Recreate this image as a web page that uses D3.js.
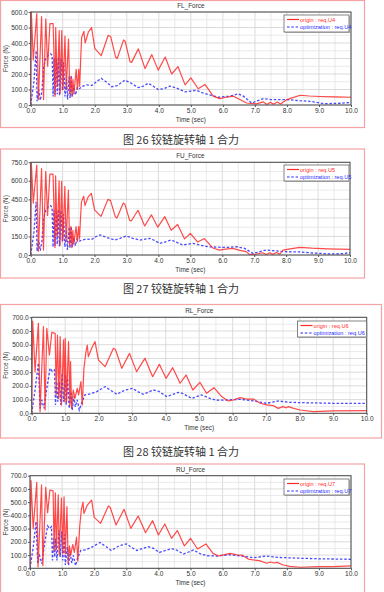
<!DOCTYPE html>
<html>
<head>
<meta charset="utf-8">
<script src="https://cdn.jsdelivr.net/npm/d3@7"></script>
<style>
  body { margin: 0; background: #fff; }
  svg { display: block; }
</style>
</head>
<body>
<div id="chart"></div>
<script>
var width = 384;
var height = 592;

// time ticks (sec) shared by every panel
var timeTicks = [0, 1, 2, 3, 4, 5, 6, 7, 8, 9, 10];

// FL_Force  [time, force]
var flOrigin = [[0,0],[0.02,600],[0.08,290],[0.19,590],[0.24,35],[0.34,570],[0.4,35],[0.47,555],[0.53,250],[0.6,525],[0.7,525],[0.76,55],[0.78,500],[0.83,120],[0.89,480],[0.92,75],[0.97,480],[1.01,100],[1.07,445],[1.11,100],[1.18,425],[1.22,75],[1.26,185],[1.29,55],[1.32,165],[1.35,75],[1.42,230],[1.46,100],[1.5,230],[1.53,120],[1.56,295],[1.59,435],[1.66,475],[1.7,400],[1.8,470],[1.9,500],[2.0,365],[2.2,318],[2.42,450],[2.5,440],[2.65,310],[2.7,300],[2.9,420],[2.95,410],[3.1,280],[3.15,275],[3.36,362],[3.57,235],[3.78,325],[3.98,225],[4.2,310],[4.4,200],[4.6,247],[4.82,130],[5.0,175],[5.23,105],[5.44,133],[5.7,57],[5.9,41],[6.1,50],[6.33,57],[6.53,35],[6.74,13],[7.05,7],[7.26,20],[7.38,4],[7.48,18],[7.58,5],[7.7,20],[7.8,6],[8.0,35],[8.41,63],[8.7,58],[9.03,55],[9.5,52],[10,50]];
var flOptim = [[0,0],[0.1,150],[0.17,350],[0.2,25],[0.25,100],[0.3,30],[0.35,90],[0.4,240],[0.47,300],[0.55,320],[0.62,330],[0.67,320],[0.7,55],[0.73,300],[0.76,65],[0.8,300],[0.83,70],[0.87,310],[0.9,60],[0.95,300],[0.99,95],[1.03,275],[1.07,55],[1.12,165],[1.15,35],[1.2,185],[1.23,45],[1.27,190],[1.3,55],[1.35,115],[1.4,65],[1.45,110],[1.5,100],[1.6,120],[1.75,130],[1.9,125],[2.05,150],[2.2,172],[2.35,150],[2.53,118],[2.7,125],[2.94,160],[3.1,145],[3.36,112],[3.5,120],[3.67,140],[3.8,125],[3.98,100],[4.15,105],[4.35,122],[4.55,110],[4.82,85],[5.0,90],[5.18,95],[5.35,80],[5.54,68],[5.86,50],[6.22,57],[6.48,72],[6.64,57],[6.9,13],[7.26,41],[7.5,35],[7.68,35],[8.0,35],[8.4,28],[8.72,24],[9.14,9],[9.6,10],[10,17]];

// FU_Force
var fuOrigin = [[0,0],[0.02,745],[0.08,420],[0.19,728],[0.24,30],[0.34,700],[0.4,40],[0.47,675],[0.53,320],[0.6,655],[0.7,655],[0.76,60],[0.78,640],[0.83,150],[0.89,600],[0.92,80],[0.97,595],[1.01,120],[1.07,555],[1.11,110],[1.18,525],[1.22,80],[1.26,230],[1.29,60],[1.32,200],[1.35,90],[1.42,230],[1.46,110],[1.5,230],[1.53,130],[1.56,300],[1.59,430],[1.66,475],[1.7,400],[1.8,470],[1.9,499],[2.0,365],[2.2,312],[2.42,450],[2.5,440],[2.65,310],[2.7,300],[2.9,420],[2.95,410],[3.1,280],[3.15,275],[3.36,362],[3.57,235],[3.78,325],[3.98,225],[4.2,310],[4.4,200],[4.6,247],[4.82,130],[5.0,175],[5.23,105],[5.44,133],[5.7,57],[5.92,40],[6.1,48],[6.33,54],[6.55,38],[6.75,27],[6.85,5],[7.05,6],[7.26,18],[7.38,4],[7.48,18],[7.58,5],[7.7,20],[7.8,6],[7.9,40],[8.42,62],[8.8,55],[9.3,50],[10,46]];
var fuOptim = [[0,0],[0.1,180],[0.17,430],[0.2,30],[0.25,120],[0.3,35],[0.35,110],[0.4,290],[0.47,360],[0.55,390],[0.62,400],[0.67,385],[0.7,65],[0.73,360],[0.76,75],[0.8,360],[0.83,85],[0.87,370],[0.9,70],[0.95,360],[0.99,110],[1.03,330],[1.07,65],[1.12,200],[1.15,40],[1.2,225],[1.23,55],[1.27,230],[1.3,65],[1.35,140],[1.4,75],[1.45,130],[1.5,110],[1.6,120],[1.75,130],[1.9,125],[2.05,150],[2.17,162],[2.35,145],[2.63,121],[2.8,135],[3.0,154],[3.2,135],[3.42,121],[3.73,135],[3.9,115],[4.04,94],[4.2,105],[4.4,121],[4.55,105],[4.76,81],[5.08,94],[5.3,80],[5.55,67],[5.97,62],[6.2,62],[6.44,67],[6.7,54],[6.96,13],[7.15,25],[7.37,40],[7.6,35],[7.9,27],[8.4,25],[8.9,15],[9.47,8],[9.8,12],[10,19]];

// RL_Force
var rlOrigin = [[0,0],[0.03,673],[0.1,304],[0.2,656],[0.25,12],[0.35,632],[0.4,24],[0.45,620],[0.53,425],[0.6,590],[0.7,583],[0.73,134],[0.77,571],[0.81,110],[0.85,559],[0.89,60],[0.95,535],[0.98,85],[1.0,547],[1.04,85],[1.1,523],[1.14,60],[1.16,377],[1.19,36],[1.24,170],[1.29,109],[1.36,182],[1.4,134],[1.47,231],[1.51,61],[1.56,328],[1.62,450],[1.66,498],[1.69,413],[1.79,474],[1.89,523],[1.99,389],[2.19,340],[2.44,474],[2.5,465],[2.69,328],[2.92,437],[3.13,304],[3.38,401],[3.61,267],[3.81,357],[4.01,255],[4.21,333],[4.43,219],[4.61,280],[4.81,170],[5.02,226],[5.22,146],[5.44,187],[5.67,122],[5.87,90],[6.02,97],[6.22,114],[6.42,104],[6.62,104],[6.82,73],[7.01,61],[7.21,56],[7.36,36],[7.5,49],[7.6,40],[7.66,49],[7.8,38],[8.01,24],[8.41,12],[9.0,17],[10,19]];
var rlOptim = [[0,0],[0.1,170],[0.2,365],[0.25,36],[0.3,97],[0.37,36],[0.45,182],[0.55,328],[0.62,304],[0.68,316],[0.71,61],[0.75,230],[0.78,85],[0.83,230],[0.87,61],[0.91,292],[0.95,85],[1.0,280],[1.03,61],[1.07,255],[1.12,36],[1.17,158],[1.21,24],[1.26,122],[1.3,48],[1.36,97],[1.42,24],[1.49,73],[1.59,134],[1.74,141],[1.94,158],[2.19,194],[2.34,170],[2.54,139],[2.79,170],[3.02,182],[3.15,160],[3.33,139],[3.63,170],[3.8,160],[4.03,122],[4.38,153],[4.5,145],[4.78,109],[5.07,134],[5.32,109],[5.52,95],[5.82,97],[6.22,102],[6.62,90],[7.01,73],[7.36,90],[7.71,80],[8.0,78],[9.0,73],[10,73]];

// RU_Force
var ruOrigin = [[0,0],[0.03,665],[0.1,300],[0.21,650],[0.25,10],[0.36,630],[0.4,20],[0.49,612],[0.55,420],[0.62,592],[0.72,585],[0.75,130],[0.79,570],[0.82,140],[0.88,555],[0.91,100],[0.98,530],[1.02,110],[1.06,540],[1.1,110],[1.15,466],[1.19,40],[1.23,170],[1.27,100],[1.33,180],[1.38,120],[1.45,235],[1.49,55],[1.55,320],[1.6,445],[1.65,500],[1.68,415],[1.78,475],[1.92,516],[2.0,385],[2.2,340],[2.44,471],[2.5,460],[2.68,327],[2.93,446],[3.14,302],[3.37,395],[3.6,269],[3.82,360],[4.0,252],[4.2,335],[4.41,227],[4.59,285],[4.81,169],[5.0,227],[5.22,146],[5.48,184],[5.7,113],[5.87,93],[6.0,100],[6.23,113],[6.45,101],[6.6,100],[6.8,70],[6.96,63],[7.15,58],[7.37,38],[7.5,48],[7.6,40],[7.7,45],[7.89,25],[8.1,15],[8.41,8],[9.0,12],[9.45,13],[10,18]];
var ruOptim = [[0,0],[0.1,160],[0.19,352],[0.24,40],[0.3,95],[0.37,35],[0.45,180],[0.55,320],[0.61,300],[0.67,315],[0.7,60],[0.74,225],[0.77,85],[0.8,225],[0.84,60],[0.9,290],[0.94,85],[0.99,280],[1.02,60],[1.07,255],[1.1,25],[1.16,160],[1.2,20],[1.25,120],[1.3,40],[1.35,97],[1.42,20],[1.48,75],[1.58,135],[1.73,140],[1.93,160],[2.18,195],[2.33,170],[2.53,135],[2.78,170],[3.01,184],[3.15,160],[3.33,135],[3.69,164],[3.85,150],[4.03,120],[4.41,148],[4.55,140],[4.78,108],[5.09,138],[5.32,108],[5.52,95],[5.82,93],[6.22,102],[6.62,92],[6.96,80],[7.37,93],[7.71,82],[8.0,80],[8.41,76],[9.0,72],[10,68]];

var panelTitles = ["FL_Force", "FU_Force", "RL_Force", "RU_Force"];
var reqTags = ["req.U4", "req.U5", "req.U6", "req.U7"];
var forceTicks = [
    [0, 100, 200, 300, 400, 500, 600],
    [0, 150, 300, 450, 600, 750],
    [0, 100, 200, 300, 400, 500, 600, 700],
    [0, 100, 200, 300, 400, 500, 600, 700]
];
var captions = ["图 26 铰链旋转轴 1 合力", "图 27 铰链旋转轴 1 合力", "图 28 铰链旋转轴 1 合力"];

var originSeries = [flOrigin, fuOrigin, rlOrigin, ruOrigin];
var optimSeries = [flOptim, fuOptim, rlOptim, ruOptim];

// layout of the four framed panels
var layout = [
    { frame: [0.5, 0.5, 364, 127], plot: { l: 30.7, r: 351, t: 12, b: 105 }, legend: { x: 284, y: 15, w: 65, h: 17 }, capY: 140 },
    { frame: [0.5, 149, 364, 129], plot: { l: 30.7, r: 350, t: 162.3, b: 255 }, legend: { x: 284, y: 165, w: 65, h: 16 }, capY: 289 },
    { frame: [0.5, 304.5, 381, 133.5], plot: { l: 31.7, r: 366.7, t: 317.3, b: 413.3 }, legend: { x: 297.5, y: 321, w: 69, h: 16 }, capY: 452 },
    { frame: [0.5, 464, 364, 130], plot: { l: 30, r: 351, t: 475.7, b: 568.3 }, legend: { x: 284, y: 479, w: 65, h: 16 }, capY: null }
];

var redColor = "#ff2a2a";
var blueColor = "#2a2aff";
var sansFont = "Liberation Sans, Arial, sans-serif";

var svg = d3.select("#chart").append("svg")
    .attr("width", width)
    .attr("height", height);

svg.append("rect")
    .attr("width", width)
    .attr("height", height)
    .attr("fill", "#fff");

function drawPanel(i) {
    var L = layout[i];
    var p = L.plot;
    var yTicks = forceTicks[i];
    var yMax = yTicks[yTicks.length - 1];
    var yStep = yTicks[1] - yTicks[0];

    // pink frame round the whole panel
    svg.append("rect")
        .attr("x", L.frame[0])
        .attr("y", L.frame[1])
        .attr("width", L.frame[2])
        .attr("height", L.frame[3])
        .attr("fill", "none")
        .attr("stroke", "#f3a3a3")
        .attr("stroke-width", 1.2);

    var x = d3.scaleLinear().domain([0, 10]).range([p.l, p.r]);
    var y = d3.scaleLinear().domain([0, yMax]).range([p.b, p.t]);

    var g = svg.append("g");

    // minor + major grid
    var xGrid = d3.range(0, 10.01, 0.5);
    var yGrid = d3.range(0, yMax + 0.01, yStep / 2);
    g.selectAll(".vg").data(xGrid).enter().append("line")
        .attr("x1", d => x(d)).attr("x2", d => x(d))
        .attr("y1", p.t).attr("y2", p.b)
        .attr("stroke", d => d % 1 === 0 ? "#d2d2d2" : "#e4e4e4")
        .attr("stroke-width", 0.8);
    g.selectAll(".hg").data(yGrid).enter().append("line")
        .attr("x1", p.l).attr("x2", p.r)
        .attr("y1", d => y(d)).attr("y2", d => y(d))
        .attr("stroke", d => d % yStep === 0 ? "#d2d2d2" : "#e4e4e4")
        .attr("stroke-width", 0.8);

    // clip the curves to the plot box
    var clipId = "clip" + i;
    svg.append("clipPath").attr("id", clipId)
        .append("rect")
        .attr("x", p.l).attr("y", p.t - 1)
        .attr("width", p.r - p.l).attr("height", p.b - p.t + 1);

    var line = d3.line()
        .x(d => x(d[0]))
        .y(d => y(d[1]))
        .curve(d3.curveLinear);

    g.append("path")
        .attr("d", line(optimSeries[i]))
        .attr("clip-path", "url(#" + clipId + ")")
        .attr("fill", "none")
        .attr("stroke", blueColor)
        .attr("stroke-width", 1.3)
        .attr("stroke-dasharray", "2.5,1.8")
        .attr("opacity", 0.85);

    g.append("path")
        .attr("d", line(originSeries[i]))
        .attr("clip-path", "url(#" + clipId + ")")
        .attr("fill", "none")
        .attr("stroke", redColor)
        .attr("stroke-width", 1.2)
        .attr("stroke-linejoin", "round")
        .attr("opacity", 0.85);

    // axes
    var xAxis = d3.axisBottom(x)
        .tickValues(timeTicks)
        .tickSize(2)
        .tickPadding(1)
        .tickFormat(d3.format(".1f"));
    var yAxis = d3.axisLeft(y)
        .tickValues(yTicks)
        .tickSize(2)
        .tickPadding(1)
        .tickFormat(d3.format(".1f"));

    var xa = g.append("g")
        .attr("transform", "translate(0," + p.b + ")")
        .call(xAxis);
    var ya = g.append("g")
        .attr("transform", "translate(" + p.l + ",0)")
        .call(yAxis);
    [xa, ya].forEach(function(a) {
        a.select(".domain").remove();
        a.selectAll("line").attr("stroke", "#555");
        a.selectAll("text")
            .attr("fill", "#333")
            .style("font-family", sansFont)
            .style("font-size", "6.6px");
    });

    // plot border
    g.append("rect")
        .attr("x", p.l).attr("y", p.t)
        .attr("width", p.r - p.l).attr("height", p.b - p.t)
        .attr("fill", "none")
        .attr("stroke", "#4a4a4a")
        .attr("stroke-width", 1);

    // titles
    g.append("text")
        .attr("x", (p.l + p.r) / 2)
        .attr("y", p.t - 4)
        .attr("text-anchor", "middle")
        .attr("fill", "#333")
        .style("font-family", sansFont)
        .style("font-size", "6.4px")
        .text(panelTitles[i]);

    g.append("text")
        .attr("x", (p.l + p.r) / 2)
        .attr("y", p.b + 16.5)
        .attr("text-anchor", "middle")
        .attr("fill", "#333")
        .style("font-family", sansFont)
        .style("font-size", "6.4px")
        .text("Time (sec)");

    g.append("text")
        .attr("transform", "translate(8," + ((p.t + p.b) / 2) + ") rotate(-90)")
        .attr("text-anchor", "middle")
        .attr("fill", "#333")
        .style("font-family", sansFont)
        .style("font-size", "6.4px")
        .text("Force (N)");

    // legend
    var lg = L.legend;
    var leg = g.append("g");
    leg.append("rect")
        .attr("x", lg.x + 1).attr("y", lg.y + 1)
        .attr("width", lg.w).attr("height", lg.h)
        .attr("fill", "#bbb");
    leg.append("rect")
        .attr("x", lg.x).attr("y", lg.y)
        .attr("width", lg.w).attr("height", lg.h)
        .attr("fill", "#fff")
        .attr("stroke", "#666")
        .attr("stroke-width", 0.8);
    var rows = [
        { label: "origin : " + reqTags[i], color: redColor, dash: null },
        { label: "optimization : " + reqTags[i], color: blueColor, dash: "2.5,1.8" }
    ];
    rows.forEach(function(r, k) {
        var ry = lg.y + 4.5 + k * 7.5;
        leg.append("line")
            .attr("x1", lg.x + 3).attr("x2", lg.x + 15)
            .attr("y1", ry).attr("y2", ry)
            .attr("stroke", r.color)
            .attr("stroke-width", 1.2)
            .attr("stroke-dasharray", r.dash);
        leg.append("text")
            .attr("x", lg.x + 16)
            .attr("y", ry + 2)
            .attr("fill", r.color)
            .style("font-family", sansFont)
            .style("font-size", "5.6px")
            .text(r.label);
    });

    if (L.capY !== null) {
        svg.append("text")
            .attr("x", 181)
            .attr("y", L.capY + 4)
            .attr("text-anchor", "middle")
            .attr("fill", "#333")
            .style("font-family", "Noto Sans CJK SC, sans-serif")
            .style("font-size", "11px")
            .text(captions[i]);
    }
}

for (var i = 0; i < 4; i++) {
    drawPanel(i);
}
</script>
</body>
</html>
